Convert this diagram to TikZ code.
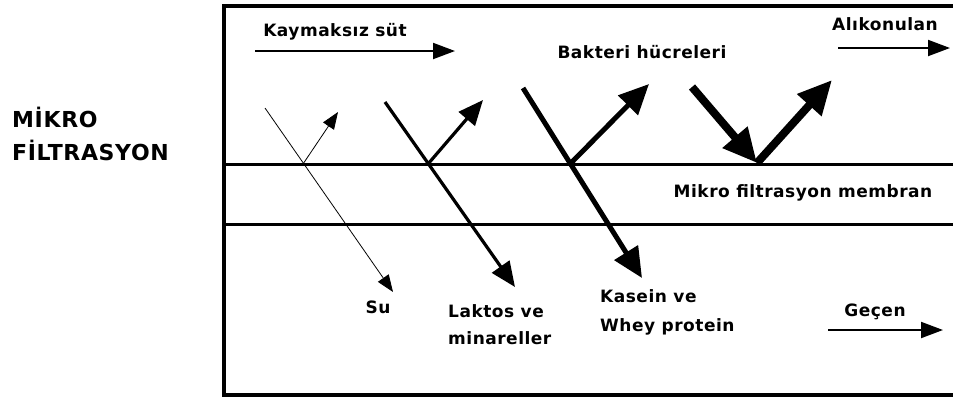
\documentclass[tikz,border=0pt]{standalone}
\usepackage{fontspec}
\setmainfont[LetterSpace=3]{DejaVu Sans}
\usetikzlibrary{arrows.meta,positioning}

\begin{document}
\begin{tikzpicture}[x=1pt,y=-1pt,
  every node/.style={font=\fontsize{17}{27}\selectfont\bfseries,inner sep=0pt},
  wall/.style={line width=4pt},
  membrane/.style={line width=3pt},
  flow/.style={line width=2pt,-{Triangle[length=22pt,width=16pt]}},
  rayA/.style={line width=0.8pt,-{Triangle[length=17pt,width=13pt]}},
  rayB/.style={line width=3.2pt,-{Triangle[length=25pt,width=21pt]}},
  rayC/.style={line width=5pt,-{Triangle[length=30pt,width=27pt]}},
  rayD/.style={line width=8pt,-{Triangle[length=34pt,width=31pt]}}]
  \useasboundingbox (0,0) rectangle (953,400);

  % vessel and membrane
  \draw[wall] (953,6) -- (224,6) -- (224,395) -- (953,395);
  \draw[membrane] (224,164) -- (953,164);
  \draw[membrane] (224,224) -- (953,224);

  % labels
  \node[font=\fontsize{22}{33}\selectfont\bfseries,align=left,anchor=west] (title) at (12,134) {MİKRO\\FİLTRASYON};
  \node (milk) at (335,32) {Kaymaksız süt};
  \node (bacteria) at (642,52) {Bakteri hücreleri};
  \node (retained) at (885,24) {Alıkonulan};
  \node (membrane) at (803,193) {Mikro filtrasyon membran};
  \node (water) at (378,307) {Su};
  \node[align=left,anchor=west] (lactose) at (448,325) {Laktos ve\\minareller};
  \node[align=left,anchor=west,font=\fontsize{17}{29}\selectfont\bfseries] (casein) at (600,312) {Kasein ve\\Whey protein};
  \node (permeate) at (875,312) {Geçen};

  % flow directions
  \coordinate (milkA) at (255,51);
  \coordinate (milkB) at (455,51);
  \coordinate (retA) at (838,48);
  \coordinate (retB) at (950,48);
  \coordinate (permA) at (828,330);
  \coordinate (permB) at (943,330);
  \draw[flow] (milkA) -- (milkB);
  \draw[flow] (retA) -- (retB);
  \draw[flow] (permA) -- (permB);

  % particles hitting the membrane
  \coordinate (waterIn) at (265,108);
  \coordinate (waterHit) at (303,164);
  \coordinate (waterOut) at (393,292);
  \coordinate (waterBack) at (338,112);
  \draw[rayA] (waterIn) -- (waterOut);
  \draw[rayA] (waterHit) -- (waterBack);

  \coordinate (lacIn) at (385,102);
  \coordinate (lacHit) at (428,164);
  \coordinate (lacOut) at (515,287);
  \coordinate (lacBack) at (483,100);
  \draw[rayB] (lacIn) -- (lacOut);
  \draw[rayB] (lacHit) -- (lacBack);

  \coordinate (casIn) at (523,88);
  \coordinate (casHit) at (570,164);
  \coordinate (casOut) at (642,278);
  \coordinate (casBack) at (649,84);
  \draw[rayC] (casIn) -- (casOut);
  \draw[rayC] (casHit) -- (casBack);

  \coordinate (bacIn) at (692,87);
  \coordinate (bacHit) at (757,163);
  \coordinate (bacBack) at (832,80);
  \draw[rayD] (bacIn) -- (bacHit);
  \draw[rayD] (bacHit) -- (bacBack);
\end{tikzpicture}
\end{document}
